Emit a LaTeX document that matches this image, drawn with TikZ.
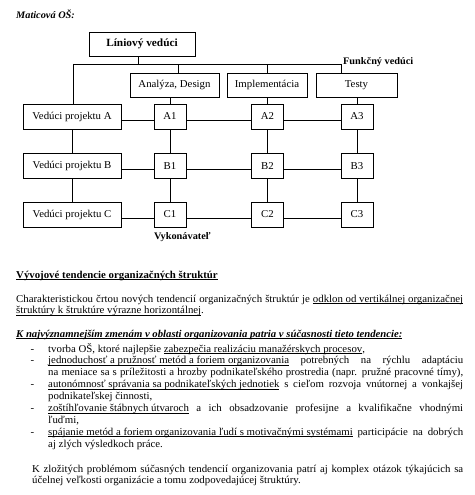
\documentclass[tikz,border=0pt]{standalone}
\usepackage{
	fontspec,			% Fonts
	tikz,
	xcolor
}
\setmainfont{Liberation Serif}[FakeStretch=1.03]
\newcommand{\dashitem}{\leavevmode\llap{-\hspace{14pt}}}
\newcommand{\undl}[1]{\leavevmode\setbox0\hbox{#1}\rlap{\rule[-1.5pt]{\wd0}{0.5pt}}\box0\relax}
\newcommand{\fline}[1]{\makebox[\linewidth][s]{#1}\par}

\begin{document}
\begin{tikzpicture}[x=1pt,y=-1pt,
		box/.style={draw,line width=.8pt,minimum height=24pt,inner sep=0pt,font=\fontsize{10.5}{12}\selectfont},
		cell/.style={box,minimum width=32pt,minimum height=25pt},
		lbl/.style={anchor=west,inner sep=0pt,font=\fontsize{10}{12}\selectfont\bfseries},
		txt/.style={anchor=base west,inner sep=0pt,align=justify,font=\fontsize{10.5}{11.9}\selectfont},
		conn/.style={line width=.8pt}]
		\useasboundingbox (0,0) rectangle (474,495);
		\node[lbl,font=\fontsize{10}{12}\selectfont\bfseries\itshape] (title) at (16,14) {Maticová OŠ:};
		\node[box,minimum width=106pt,font=\fontsize{11}{12}\selectfont\bfseries] (lin) at (142,44) {Líniový vedúci};
		\foreach \n/\x/\w/\t in {an/174.5/89/{Analýza, Design}, im/267/80/Implementácia, te/356.5/81/Testy}
		\node[box,minimum width=\w pt] (\n) at (\x,85) {\t};
		\foreach \r/\y in {A/116.5, B/166, C/214.5}{
			\node[box,minimum width=98pt,minimum height=25pt] (v\r) at (72,\y) {Vedúci projektu \r};
			\foreach \c/\x in {1/170, 2/267.5, 3/357}
			\node[cell] (\r\c) at (\x,\y) {\r\c};
		}
		\node[lbl] (fv) at (343,62) {Funkčný vedúci};
		\node[lbl] (vyk) at (154,237) {Vykonávateľ};
		\coordinate (busL) at (73,64);
		\coordinate (busR) at (341,64);
		\draw[conn] ([xshift=-4pt]lin.south) -- ([xshift=-4pt]lin.south |- busL);
		\draw[conn] (busL) -- (busR);
		\draw[conn] (busL) -- (busL |- vA.north);
		\draw[conn] ([xshift=3.5pt]an.north) -- ([xshift=3.5pt]an.north |- busL);
		\draw[conn] (im.north) -- (im.north |- busL);
		\draw[conn] (te.north -| busR) -- (busR);
		\foreach \f/\c in {an/A1, im/A2, te/A3}
		\draw[conn] (\c.north |- \f.south) -- (\c.north);
		\draw[conn] (vA.south) -- (vB.north);
		\draw[conn] (vB.south) -- (vC.north);
		\foreach \c in {1,2,3}{
			\draw[conn] (A\c.south) -- (B\c.north);
			\draw[conn] (B\c.south) -- (C\c.north);
		}
		\foreach \r in {A,B,C}
		\draw[conn] ([yshift=-3.5pt]v\r.east) -- ([yshift=-3.5pt]\r1.west)
			([yshift=-3.5pt]\r1.east) -- ([yshift=-3.5pt]\r2.west)
			([yshift=-3.5pt]\r2.east) -- ([yshift=-3.5pt]\r3.west);
		\node[txt,font=\fontsize{10.5}{11.9}\selectfont\bfseries] (head) at (16,278)
			{\undl{Vývojové tendencie organizačných štruktúr}};
		\node[txt,text width=447pt] (intro) at (16,302)
			{\fline{Charakteristickou črtou nových tendencií organizačných štruktúr je \undl{odklon od vertikálnej organizačnej}}
			\undl{štruktúry k štruktúre výrazne horizontálnej}.};
		\node[txt,font=\fontsize{10.4}{11.9}\selectfont\bfseries\itshape] (lead) at (16,337)
			{\undl{K najvýznamnejším zmenám v oblasti organizovania patria v súčasnosti tieto tendencie:}};
		\node[txt,text width=415pt] (list) at (48,352)
			{\dashitem tvorba OŠ, ktoré najlepšie \undl{zabezpečia realizáciu manažérskych procesov},\par
			\dashitem\fline{\undl{jednoduchosť a pružnosť metód a foriem organizovania} potrebných na rýchlu adaptáciu}
			\fline{na meniace sa s príležitosti a hrozby podnikateľského prostredia (napr. pružné pracovné tímy),}
			\dashitem\fline{\undl{autonómnosť správania sa podnikateľských jednotiek} s cieľom rozvoja vnútornej a vonkajšej}
			podnikateľskej činnosti,\par
			\dashitem\fline{\undl{zoštíhľovanie štábnych útvaroch} a ich obsadzovanie profesijne a kvalifikačne vhodnými}
			ľuďmi,\par
			\dashitem\fline{\undl{spájanie metód a foriem organizovania ľudí s motivačnými systémami} participácie na dobrých}
			aj zlých výsledkoch práce.};
		\node[txt,text width=431pt] (close) at (32,472)
			{\fline{K zložitých problémom súčasných tendencií organizovania patrí aj komplex otázok týkajúcich sa}
			účelnej veľkosti organizácie a tomu zodpovedajúcej štruktúry.};
	\end{tikzpicture}
\end{document}
